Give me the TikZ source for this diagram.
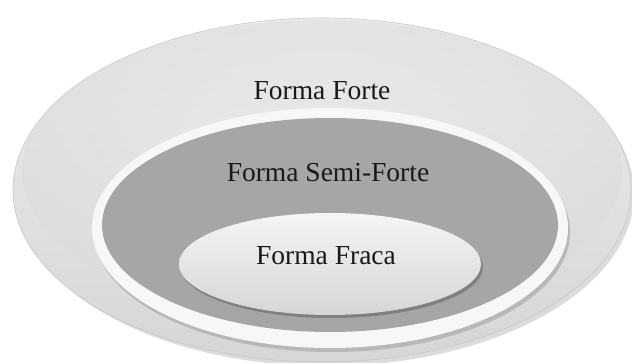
\documentclass[tikz,border=0pt]{standalone}
\usepackage{fontspec}
\setmainfont{Liberation Serif}
\begin{document}
\begin{tikzpicture}[x=1pt,y=-1pt,
  lbl/.style={font=\fontsize{27.5}{31}\selectfont, text=black!90, inner sep=0pt}]
\useasboundingbox (0,0) rectangle (632,363);
\fill[white] (0,0) rectangle (632,363);
% outer ellipse
\fill[gray!45!white, opacity=0.6] (326,194) ellipse [x radius=308, y radius=172];
\shade[top color=white!93!black, bottom color=white!84!black, draw=white!78!black, line width=0.6pt]
  (322,190) ellipse [x radius=309, y radius=172];
\shade[inner color=white!94!black, outer color=white!86!black, opacity=0.5]
  (322,170) ellipse [x radius=300, y radius=150];
% middle ellipse: shadow, white rim, dark body
\fill[white!72!black] (332,232) ellipse [x radius=238, y radius=120];
\fill[white!97!black] (330,228) ellipse [x radius=238, y radius=120];
\fill[white!65!black] (330,225) ellipse [x radius=228, y radius=107];
% inner ellipse: shadow and body
\fill[white!50!black] (332,267) ellipse [x radius=151, y radius=51];
\shade[top color=white!96!black, bottom color=white!84!black]
  (330,264) ellipse [x radius=151, y radius=51];
% labels
\node[lbl] (forte) at (322,91) {Forma Forte};
\node[lbl] (semi) at (328,173) {Forma Semi-Forte};
\node[lbl] (fraca) at (326,256) {Forma Fraca};
\end{tikzpicture}
\end{document}
